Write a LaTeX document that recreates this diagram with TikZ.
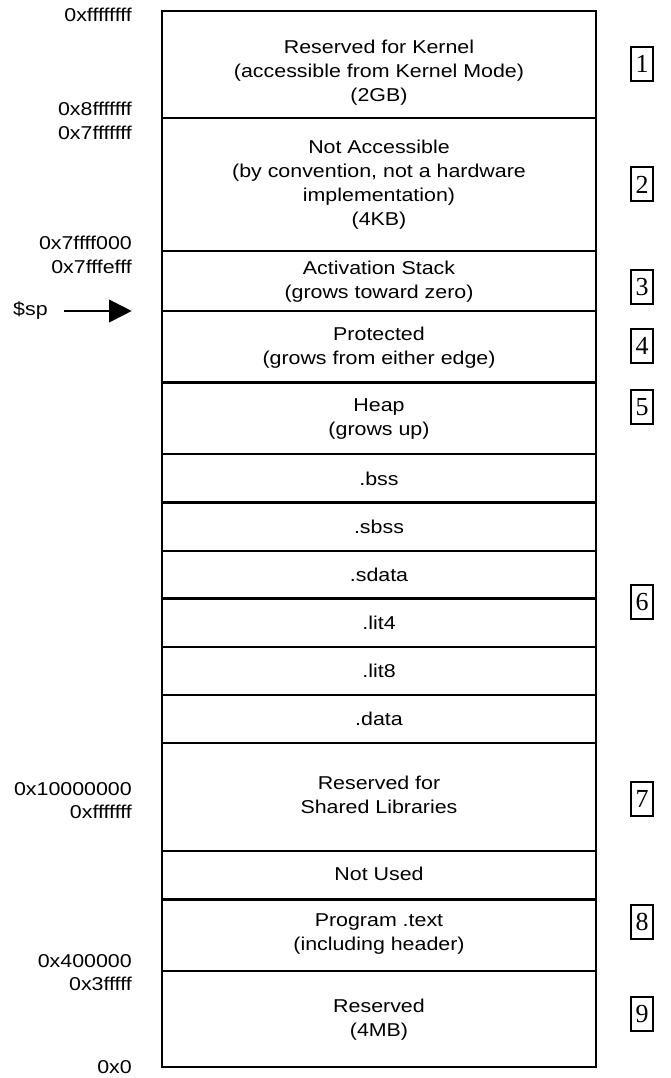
\documentclass[tikz,border=0pt]{standalone}
\usepackage{fontspec}
\setmainfont[FakeStretch=1.15]{Liberation Sans}
\newfontfamily\numfont{Liberation Serif}
\usetikzlibrary{arrows.meta}
\begin{document}
\begin{tikzpicture}[x=1pt,y=-1pt,
  segline/.style={line width=2.3pt},
  lbl/.style={font=\fontsize{18.6}{24}\selectfont, align=center, inner sep=0pt},
  addr/.style={font=\fontsize{18.6}{24}\selectfont, anchor=east, inner sep=0pt},
  num/.style={draw, line width=2pt, font=\numfont\fontsize{26}{26}\selectfont,
    minimum width=22pt, minimum height=34pt, inner sep=0pt},
  sparrow/.style={line width=2.3pt, -{Triangle[length=22.7pt,width=22.6pt]}}]
\useasboundingbox (0,0) rectangle (671,1078);
% memory column
\foreach \y in {118.3,250.7,310.8,382.5,454.3,502.5,550.8,598.5,646.8,694.8,742.8,851,899.5,970.7}
  \draw[segline] (162,\y) -- (596,\y);
\draw[segline] (162,11) rectangle (596,1066.7);
% section texts
\node[lbl] (kern) at (379,72.5) {Reserved for Kernel\\(accessible from Kernel Mode)\\(2GB)};
\node[lbl] (nacc) at (379,185) {Not Accessible\\(by convention, not a hardware\\implementation)\\(4KB)};
\node[lbl] (stack) at (379,281.3) {Activation Stack\\(grows toward zero)};
\node[lbl] (prot) at (379,348) {Protected\\(grows from either edge)};
\node[lbl] (heap) at (379,419.5) {Heap\\(grows up)};
\node[lbl] (bss) at (379,478.4) {.bss};
\node[lbl] (sbss) at (379,526.6) {.sbss};
\node[lbl] (sdata) at (379,574.6) {.sdata};
\node[lbl] (lit4) at (379,622.6) {.lit4};
\node[lbl] (lit8) at (379,670.8) {.lit8};
\node[lbl] (data) at (379,718.8) {.data};
\node[lbl] (shared) at (379,794.7) {Reserved for\\Shared Libraries};
\node[lbl] (notused) at (379,874) {Not Used};
\node[lbl] (prog) at (379,934.2) {Program .text\\(including header)};
\node[lbl] (resv) at (379,1019.2) {Reserved\\(4MB)};
% addresses
\node[addr] (a1) at (132,15) {0xffffffff};
\node[addr] (a2) at (132,109) {0x8fffffff};
\node[addr] (a3) at (132,133.3) {0x7fffffff};
\node[addr] (a4) at (132,243) {0x7ffff000};
\node[addr] (a5) at (132,266.7) {0x7fffefff};
\node[addr] (a6) at (132,789.3) {0x10000000};
\node[addr] (a7) at (132,812.3) {0xfffffff};
\node[addr] (a8) at (132,961) {0x400000};
\node[addr] (a9) at (132,984) {0x3fffff};
\node[addr] (a10) at (132,1066.7) {0x0};
% stack pointer
\node[addr, anchor=west] (sp) at (13,311) {\$sp};
\coordinate (spA) at (64.3,311);
\coordinate (spB) at (131.7,311);
\draw[sparrow] (spA) -- (spB);
% numbered tags
\node[num] (n1) at (642,64.3) {1};
\node[num] (n2) at (642,184.4) {2};
\node[num] (n3) at (642,287.4) {3};
\node[num] (n4) at (642,345.7) {4};
\node[num] (n5) at (642,407) {5};
\node[num] (n6) at (642,602.4) {6};
\node[num] (n7) at (642,798.7) {7};
\node[num] (n8) at (642,922.2) {8};
\node[num] (n9) at (642,1013.9) {9};
\end{tikzpicture}
\end{document}
